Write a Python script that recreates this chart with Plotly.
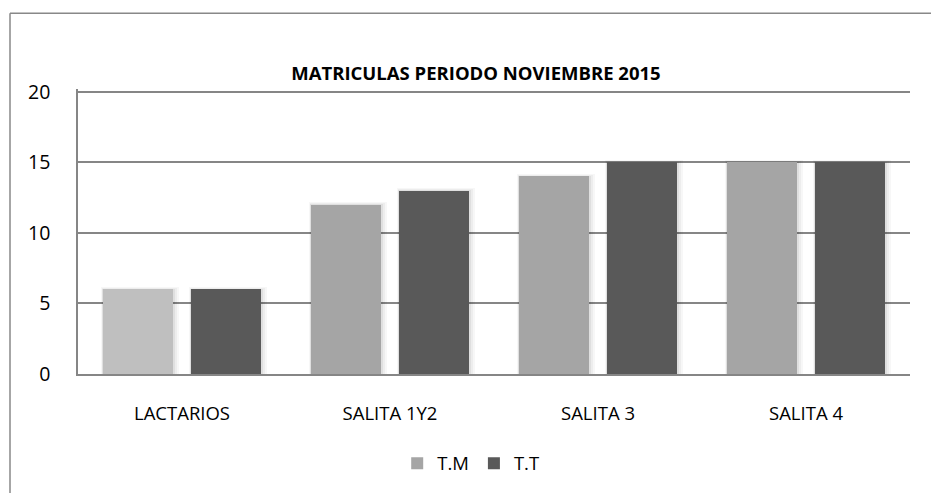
import plotly.graph_objects as go

categories = ["LACTARIOS", "SALITA 1Y2", "SALITA 3", "SALITA 4"]
tm_values = [6, 12, 14, 15]
tt_values = [6, 13, 15, 15]
y_ticks = [0, 5, 10, 15, 20]

FONT = "Open Sans, sans-serif"
plot_w = 832.0
plot_h = 286.0
cat_px = plot_w / len(categories)
bar_w = 70 / cat_px
tm_off = -79 / cat_px
tt_off = 9 / cat_px

tm_colors = ["#bfbfbf", "#a5a5a5", "#a5a5a5", "#a5a5a5"]
tm_legend_color = "#a5a5a5"
tt_color = "#595959"

fig = go.Figure()

# soft shadow layers
for k, a in [(6, 0.03), (4, 0.04), (2, 0.06)]:
    ext = k / cat_px
    for vals, off in [(tm_values, tm_off), (tt_values, tt_off)]:
        fig.add_trace(go.Bar(
            x=categories, y=[v + k * 20 / 283 * 0.4 for v in vals],
            width=bar_w + ext * 1.3, offset=off - ext * 0.3,
            marker=dict(color=f"rgba(0,0,0,{a})", line=dict(width=0)),
            showlegend=False, hoverinfo="skip"))

fig.add_trace(go.Bar(
    name="T.M", x=categories, y=tm_values, width=bar_w, offset=tm_off,
    marker=dict(color=tm_colors, line=dict(width=0)),
    legendgroup="tm", showlegend=False))
# legend entry for T.M with its series colour
fig.add_trace(go.Bar(
    name="T.M", x=categories, y=[None] * len(categories), width=bar_w, offset=tm_off,
    marker=dict(color=tm_legend_color, line=dict(width=0)),
    legendgroup="tm", showlegend=True, hoverinfo="skip"))
fig.add_trace(go.Bar(
    name="T.T", x=categories, y=tt_values, width=bar_w, offset=tt_off,
    marker=dict(color=tt_color, line=dict(width=0))))

border = dict(color="#888888", width=1.5)
fig.update_layout(
    width=931, height=493,
    margin=dict(l=78, r=21, t=89, b=118),
    paper_bgcolor="white", plot_bgcolor="white",
    barmode="overlay",
    font=dict(family=FONT, color="#000000", size=18),
    title=dict(text="<b>MATRICULAS PERIODO NOVIEMBRE 2015</b>",
               x=476 / 931, xanchor="center", y=1 - 74 / 493, yanchor="middle",
               font=dict(family=FONT, size=18.5, color="#000000")),
    xaxis=dict(showgrid=False, showline=True, linecolor="#868686", linewidth=1.5,
               ticks="", tickfont=dict(size=18.5), range=[-0.5, 3.5],
               ticklabelstandoff=22),
    yaxis=dict(range=[0, 20.2], tickvals=y_ticks, showgrid=True, gridcolor="#868686",
               gridwidth=1.5, showline=True, linecolor="#868686", linewidth=1.5,
               ticks="", ticklabelstandoff=22, tickfont=dict(size=19.5), zeroline=False),
    legend=dict(orientation="h", x=0.472, xanchor="center", y=-0.31, yanchor="middle",
                font=dict(size=18.5), itemwidth=30, traceorder="normal"),
    bargap=0,
    shapes=[
        dict(type="line", xref="paper", yref="paper",
             x0=-68 / plot_w, x1=(931 - 78) / plot_w, y0=(375 - 13) / plot_h,
             y1=(375 - 13) / plot_h, line=border, layer="below"),
        dict(type="line", xref="paper", yref="paper",
             x0=-68 / plot_w, x1=-68 / plot_w, y0=-(118 + 2) / plot_h,
             y1=(375 - 13) / plot_h, line=border, layer="below"),
    ],
)

fig.write_html(
    "out.html", config={"displayModeBar": False},
    post_script=("document.documentElement.style.overflow='hidden';"
                 "document.body.style.overflow='hidden';"
                 "document.body.style.margin='0';document.body.style.padding='0';"))
